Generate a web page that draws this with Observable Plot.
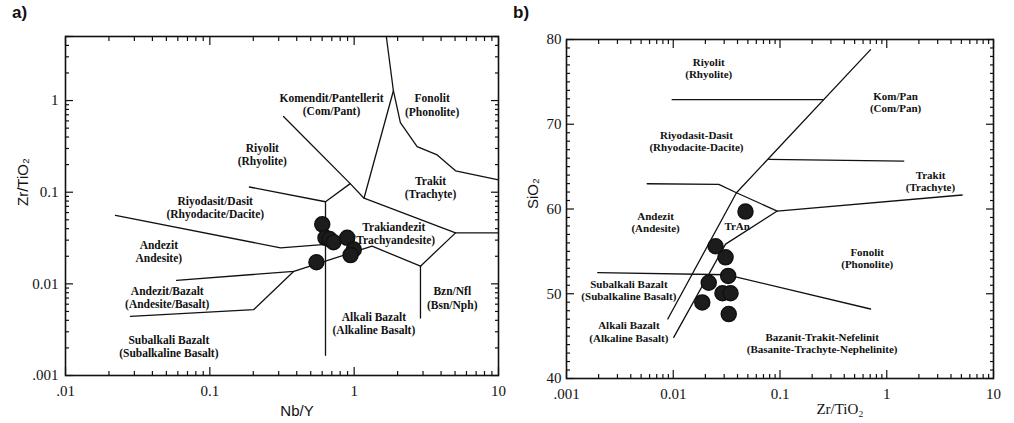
<!DOCTYPE html>
<html><head><meta charset="utf-8">
<script src="https://cdn.jsdelivr.net/npm/d3@7"></script>
<script src="https://cdn.jsdelivr.net/npm/@observablehq/plot@0.6"></script>
<style>
body{margin:0;background:#fff;}
#wrap{position:relative;width:1014px;height:423px;display:flex;}
#wrap svg{display:block;font-family:"Liberation Serif","Times New Roman",serif;}
.tag{position:absolute;top:3px;font:bold 17px "Liberation Sans",Arial,sans-serif;color:#111;}
</style></head><body>
<div id="wrap"><div class="tag" style="left:12px">a)</div><div class="tag" style="left:513px">b)</div></div>
<script>
const SERIF = "Liberation Serif";
const SANS = "Liberation Sans";

// ---------- Panel a: Zr/TiO2 vs Nb/Y ----------
const aSampleNbY  = [0.601, 0.633, 0.675, 0.719, 0.895, 0.994, 0.944, 0.548];
const aSampleZrTi = [0.0446, 0.0318, 0.0308, 0.0285, 0.0318, 0.0237, 0.0206, 0.0172];

const aBoundaries = [
  [[1.67,5],[1.87,1.28],[1.17,0.086]],
  [[1.87,1.28],[2.09,0.575],[2.73,0.315],[3.76,0.255],[5.04,0.171],[10,0.136]],
  [[0.324,0.67],[0.939,0.124],[1.17,0.086],[5.04,0.036],[10,0.036]],
  [[0.188,0.114],[0.633,0.0787],[0.939,0.124]],
  [[0.633,0.0787],[0.633,0.00166]],
  [[0.0222,0.0559],[0.309,0.0247],[0.633,0.0269]],
  [[0.0588,0.0109],[0.382,0.0137],[0.633,0.0177],[1.33,0.0258],[2.88,0.0156],[5.04,0.036]],
  [[2.88,0.0156],[2.88,0.00424]],
  [[0.0282,0.00442],[0.2018,0.00524],[0.382,0.0137]]
];

const aFieldNames = ["Komendit/Pantellerit\n(Com/Pant)","Fonolit\n(Phonolite)","Riyolit\n(Rhyolite)","Trakit\n(Trachyte)",
  "Riyodasit/Dasit\n(Rhyodacite/Dacite)","Trakiandezit\n(Trachyandesite)","Andezit\nAndesite)","Andezit/Bazalt\n(Andesite/Basalt)",
  "Bzn/Nfl\n(Bsn/Nph)","Alkali Bazalt\n(Alkaline Basalt)","Subalkali Bazalt\n(Subalkaline Basalt)"];
const aFieldX = [0.697, 3.47, 0.231, 3.38, 0.109, 1.88, 0.0443, 0.0507, 4.78, 1.37, 0.052];
const aFieldY = [0.916, 0.90, 0.26, 0.114, 0.068, 0.0353, 0.0227, 0.00719, 0.00705, 0.00375, 0.00208];

const aXTicks = [0.01, 0.1, 1, 10];
const aXTickLabels = [".01", "0.1", "1", "10"];
const aYTicks = [0.001, 0.01, 0.1, 1, 5];
const aYTickLabels = [".001", "0.01", "0.1", "1", "5"];

// ---------- Panel b: SiO2 vs Zr/TiO2 ----------
const bSampleZrTi = [0.0475, 0.0249, 0.0309, 0.0327, 0.0215, 0.0289, 0.0344, 0.0187, 0.0331];
const bSampleSiO2 = [59.7, 55.6, 54.3, 52.1, 51.3, 50.06, 50.06, 48.98, 47.6];

const bBoundaries = [
  [[0.705,78.8],[0.0391,61.92],[0.00889,47.02]],
  [[0.0942,59.76],[0.0309,55.85],[0.0101,44.86]],
  [[0.0057,62.98],[0.0267,62.9],[0.0391,61.92],[0.0942,59.76],[5.09,61.65]],
  [[0.0785,65.85],[1.445,65.65]],
  [[0.00977,72.9],[0.254,72.9]],
  [[0.00196,52.5],[0.032,52.24],[0.705,48.2]]
];

const bFieldNames = ["Riyolit\n(Rhyolite)","Kom/Pan\n(Com/Pan)","Riyodasit-Dasit\n(Rhyodacite-Dacite)","Trakit\n(Trachyte)",
  "Andezit\n(Andesite)","TrAn","Fonolit\n(Phonolite)","Subalkali Bazalt\n(Subalkaline Basalt)","Alkali Bazalt\n(Alkaline Basalt)",
  "Bazanit-Trakit-Nefelinit\n(Basanite-Trachyte-Nephelinite)"];
const bFieldX = [0.0215, 1.21, 0.0165, 2.57, 0.00683, 0.0397, 0.656, 0.00384, 0.00384, 0.248];
const bFieldY = [76.67, 72.6, 68.0, 63.33, 58.47, 58.0, 54.18, 50.47, 45.53, 44.18];

const bXTicks = [0.001, 0.01, 0.1, 1, 10];
const bXTickLabels = [".001", "0.01", "0.1", "1", "10"];
const bYTicks = [40, 50, 60, 70, 80];
const bYTickLabels = ["40", "50", "60", "70", "80"];

// ---------- helpers ----------
function logMinors(lo, hi, max) {
  const out = [];
  for (let e = lo; e < hi; e++) for (let m = 2; m <= 9; m++) {
    const v = +(m * Math.pow(10, e)).toPrecision(3);
    if (v <= max) out.push(v);
  }
  return out;
}
const flat = bs => bs.flatMap((pts, k) => pts.map(([x, y]) => ({x, y, k})));
const zipPts = (xs, ys) => xs.map((x, i) => ({x, y: ys[i]}));
const zipLab = (ts, xs, ys) => ts.map((t, i) => ({t, x: xs[i], y: ys[i]}));

function boxAxes(xMaj, xMin, yMaj, yMin, xLab, yLab, xPad, yPad) {
  const m = [];
  const common = {label: null, stroke: "#111", strokeWidth: 1.2, tickFormat: () => ""};
  for (const anchor of ["bottom", "top"]) {
    m.push(Plot.axisX(xMin, {...common, anchor, tickSize: -4}));
    m.push(Plot.axisX(xMaj, {...common, anchor, tickSize: -8}));
  }
  for (const anchor of ["left", "right"]) {
    m.push(Plot.axisY(yMin, {...common, anchor, tickSize: -4}));
    m.push(Plot.axisY(yMaj, {...common, anchor, tickSize: -8}));
  }
  const xm = new Map(xMaj.map((d, i) => [d, xLab[i]]));
  const ym = new Map(yMaj.map((d, i) => [d, yLab[i]]));
  m.push(Plot.axisX(xMaj, {anchor: "bottom", label: null, tickSize: 0, tickPadding: xPad, tickFormat: d => xm.get(d), fontFamily: SERIF, fontSize: 15, fill: "#111"}));
  m.push(Plot.axisY(yMaj, {anchor: "left", label: null, tickSize: 0, tickPadding: yPad, tickFormat: d => ym.get(d), fontFamily: SERIF, fontSize: 15, fill: "#111"}));
  return m;
}

const wrap = document.getElementById("wrap");

const plotA = Plot.plot({
  width: 507, height: 423,
  marginLeft: 65, marginRight: 9, marginTop: 36, marginBottom: 48,
  style: {fontFamily: SERIF, fontSize: "14px", color: "#111", background: "#fff"},
  x: {type: "log", domain: [0.01, 10], label: null},
  y: {type: "log", domain: [0.001, 5], label: null},
  marks: [
    ...boxAxes(aXTicks, logMinors(-2, 1, 10), aYTicks, logMinors(-3, 1, 5), aXTickLabels, aYTickLabels, 10, 7),
    Plot.line(flat(aBoundaries), {x: "x", y: "y", z: "k", stroke: "#111", strokeWidth: 1.3}),
    Plot.text(zipLab(aFieldNames, aFieldX, aFieldY), {x: "x", y: "y", text: "t", fontFamily: SERIF, fontWeight: "bold", fontSize: 11.5, lineHeight: 1.15, fill: "#111"}),
    Plot.dot(zipPts(aSampleNbY, aSampleZrTi), {x: "x", y: "y", r: 7.5, fill: "#1c1c1c", stroke: "#111"}),
    Plot.frame({stroke: "#111", strokeWidth: 1.6}),
    Plot.text(["Zr/TiO₂"], {frameAnchor: "left", dx: -42, rotate: -90, text: d => d, fontFamily: SANS, fontSize: 15, fill: "#111"}),
    Plot.text(["Nb/Y"], {frameAnchor: "bottom", dx: 15, dy: 40, text: d => d, fontFamily: SANS, fontSize: 15, fill: "#111"})
  ]
});

const plotB = Plot.plot({
  width: 507, height: 423,
  marginLeft: 59, marginRight: 21, marginTop: 39, marginBottom: 45,
  style: {fontFamily: SERIF, fontSize: "14px", color: "#111", background: "#fff"},
  x: {type: "log", domain: [0.001, 10], label: null},
  y: {domain: [40, 80], label: null},
  marks: [
    ...boxAxes(bXTicks, logMinors(-3, 1, 10), bYTicks, d3.range(41, 80).filter(v => v % 10 !== 0), bXTickLabels, bYTickLabels, 10, 5),
    Plot.line(flat(bBoundaries), {x: "x", y: "y", z: "k", stroke: "#111", strokeWidth: 1.3}),
    Plot.text(zipLab(bFieldNames, bFieldX, bFieldY), {x: "x", y: "y", text: "t", fontFamily: SERIF, fontWeight: "bold", fontSize: 11, lineHeight: 1.12, fill: "#111"}),
    Plot.dot(zipPts(bSampleZrTi, bSampleSiO2), {x: "x", y: "y", r: 7.5, fill: "#1c1c1c", stroke: "#111"}),
    Plot.frame({stroke: "#111", strokeWidth: 1.6}),
    Plot.text(["SiO₂"], {frameAnchor: "left", dx: -33, rotate: -90, text: d => d, fontFamily: SANS, fontSize: 15, fill: "#111"}),
    Plot.text(["Zr/TiO₂"], {frameAnchor: "bottom", dx: 60, dy: 35, text: d => d, fontFamily: SERIF, fontSize: 15, fill: "#111"})
  ]
});

wrap.appendChild(plotA);
wrap.appendChild(plotB);
</script>
</body></html>
